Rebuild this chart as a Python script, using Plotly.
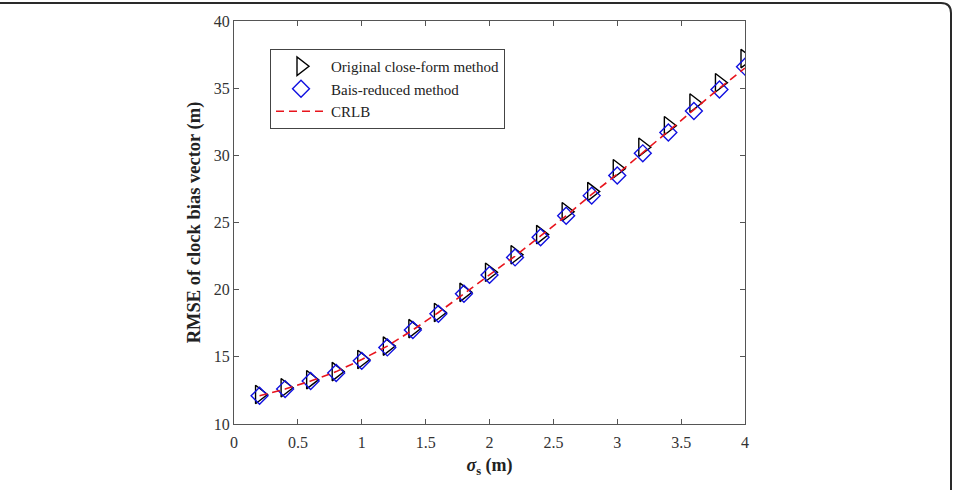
import plotly.graph_objects as go

sigma_s = [0.2, 0.4, 0.6, 0.8, 1.0, 1.2, 1.4, 1.6, 1.8, 2.0,
           2.2, 2.4, 2.6, 2.8, 3.0, 3.2, 3.4, 3.6, 3.8, 4.0]
original = [12.2, 12.7, 13.3, 13.9, 14.8, 15.8, 17.1, 18.3, 19.8, 21.3,
            22.6, 24.1, 25.8, 27.3, 29.0, 30.6, 32.2, 33.9, 35.4, 37.2]
bias_reduced = [12.1, 12.6, 13.2, 13.8, 14.7, 15.7, 17.0, 18.2, 19.7, 21.1,
                22.4, 23.9, 25.5, 27.0, 28.5, 30.15, 31.7, 33.3, 34.9, 36.6]
crlb = [12.1, 12.6, 13.2, 13.9, 14.8, 15.8, 17.0, 18.3, 19.7, 21.1,
        22.5, 24.0, 25.5, 27.1, 28.6, 30.2, 31.8, 33.4, 35.0, 36.5]

W, H = 955, 490
L, R, T, B = 234, 745, 21, 424

FONT = "Liberation Serif"

fig = go.Figure()
fig.add_trace(go.Scatter(
    x=sigma_s, y=original, mode="markers", name="Original close-form method",
    marker=dict(symbol="triangle-right-open", size=16, color="black",
                line=dict(width=1.4, color="black"))))
fig.add_trace(go.Scatter(
    x=sigma_s, y=bias_reduced, mode="markers", name="Bais-reduced method",
    marker=dict(symbol="diamond-open", size=13, color="#1010e0",
                line=dict(width=1.4, color="#1010e0"))))
fig.add_trace(go.Scatter(
    x=sigma_s, y=crlb, mode="lines", name="CRLB",
    line=dict(color="#e8141c", width=1.6, dash="8px,5px")))

def px(xp):
    return (xp - L) / (R - L)

def py(yp):
    return (B - yp) / (B - T)

# outer rounded frame (top & right edges)
r = 10
x0, x1 = -2, 951
y0, y1 = 3, 492
path = (f"M {px(x0)},{py(y0)} L {px(x1 - r)},{py(y0)} "
        f"Q {px(x1)},{py(y0)} {px(x1)},{py(y0 + r)} "
        f"L {px(x1)},{py(y1)}")
fig.add_shape(type="path", path=path, xref="paper", yref="paper",
              line=dict(color="#2a2a2a", width=2))

axis_common = dict(
    showgrid=False, zeroline=False, showline=True, linecolor="#555555",
    linewidth=1, mirror="ticks", ticks="inside", ticklen=5, tickcolor="#555555",
    tickfont=dict(family=FONT, size=16, color="#333333"),
)

fig.update_layout(
    width=W, height=H,
    margin=dict(l=L, r=W - R, t=T, b=H - B),
    paper_bgcolor="white", plot_bgcolor="white",
    font=dict(family=FONT, color="#222222"),
    xaxis=dict(range=[0, 4], tickvals=[0, 0.5, 1, 1.5, 2, 2.5, 3, 3.5, 4],
               ticktext=["0", "0.5", "1", "1.5", "2", "2.5", "3", "3.5", "4"],
               ticklabelstandoff=4,
               title=dict(text="<b><i>σ</i><sub>s</sub> (m)</b>",
                          font=dict(family=FONT, size=18, color="#222222"),
                          standoff=8),
               **axis_common),
    yaxis=dict(range=[10, 40], tickvals=[10, 15, 20, 25, 30, 35, 40],
               title=dict(text="<b>RMSE of clock bias vector (m)</b>",
                          font=dict(family=FONT, size=18.5, color="#222222"),
                          standoff=8),
               **axis_common),
    legend=dict(x=px(270), y=py(49), xanchor="left", yanchor="top",
                bgcolor="white", bordercolor="#444444", borderwidth=1,
                font=dict(family=FONT, size=15, color="#222222"),
                tracegroupgap=0, itemwidth=50),
    showlegend=True,
)

fig.write_html("out.html")
